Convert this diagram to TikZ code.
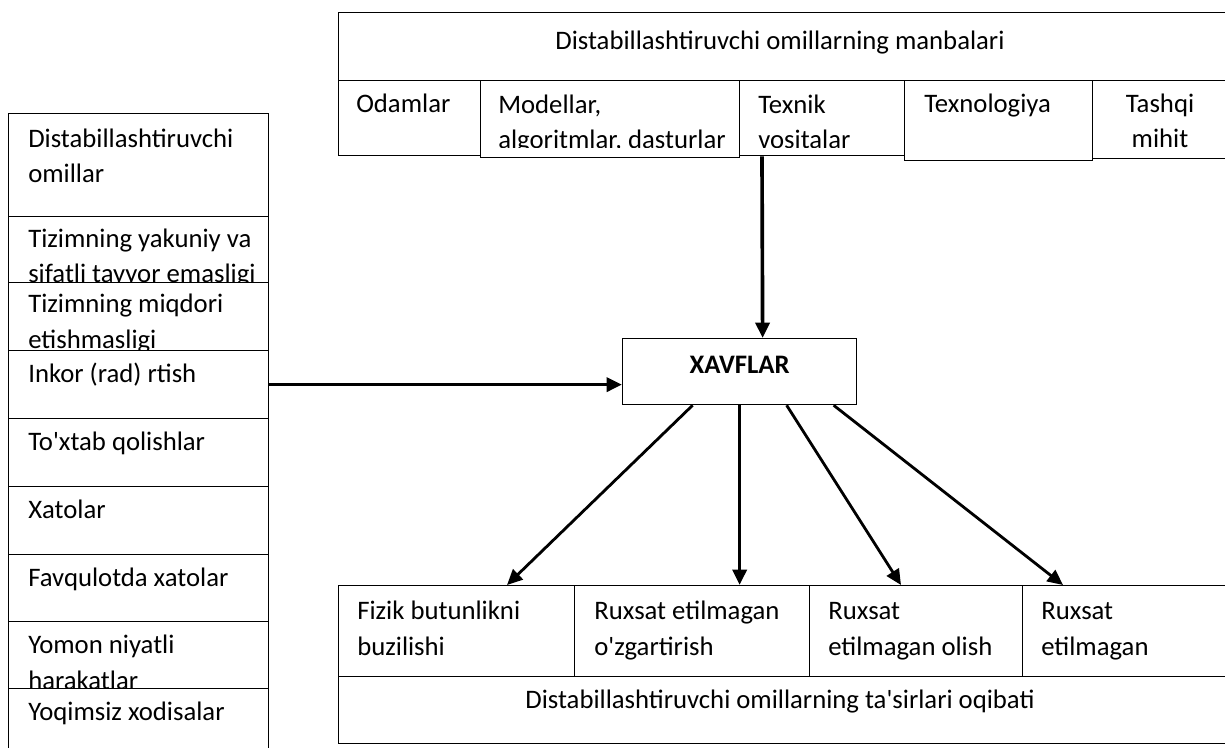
\documentclass[tikz,border=0pt]{standalone}
\usepackage{fontspec}
\setmainfont{Carlito}
\usepackage{tikz}
\usetikzlibrary{arrows.meta,calc}
\newcommand{\pu}{0.025cm}

\begin{document}
\begin{tikzpicture}[x=0.025cm, y=-0.025cm,
  every node/.style={font=\fontsize{19}{25.6}\selectfont},
  box/.style={draw=black, line width=0.9pt, fill=white, inner sep=0pt, anchor=north west},
  txt/.style={anchor=base west, align=left, inner sep=0pt},
  link/.style={-{Triangle[length=11pt,width=10pt]}, line width=2.6pt},
  slant/.style={-{Triangle[length=11pt,width=10pt]}, line width=2pt}]
  \useasboundingbox (0,0) rectangle (1225,748);
  \clip (0,0) rectangle (1225,748);

  % Sources (two-line texts sit on the baseline of their last line)
  \node[box, minimum width=900*\pu, minimum height=68*\pu] (manba) at (338,12) {};
  \node[anchor=base, inner sep=0pt] (manba-t) at ($(manba.north west)+(442,38)$) {Distabillashtiruvchi omillarning manbalari};

  \node[box, minimum width=142*\pu, minimum height=75*\pu] (odam) at (338,80) {};
  \node[txt] (odam-t) at ($(odam.north west)+(18,33)$) {Odamlar};
  \node[box, minimum width=259*\pu, minimum height=77*\pu] (model) at (480,80) {};
  \begin{scope}
    \clip (model.north west) rectangle ($(model.south east)+(0,-11)$);
    \node[txt] (model-t) at ($(model.north west)+(18,69)$) {Modellar,\\algoritmlar, dasturlar};
  \end{scope}
  \node[box, minimum width=165*\pu, minimum height=75*\pu] (texnik) at (739,80) {};
  \begin{scope}
    \clip (texnik.north west) rectangle ($(texnik.south east)+(0,-9)$);
    \node[txt] (texnik-t) at ($(texnik.north west)+(19,69)$) {Texnik\\vositalar};
  \end{scope}
  \node[box, minimum width=188*\pu, minimum height=80*\pu] (texnol) at (904,80) {};
  \node[txt] (texnol-t) at ($(texnol.north west)+(20,33)$) {Texnologiya};
  \node[box, minimum width=150*\pu, minimum height=78*\pu] (tashqi) at (1092,80) {};
  \node[txt, anchor=base, align=center] (tashqi-t) at ($(tashqi.north west)+(68,68)$) {Tashqi\\mihit};

  % Factors
  \node[box, minimum width=260*\pu, minimum height=103*\pu] (b1) at (8,113) {};
  \node[txt] (b1-t) at ($(b1.north west)+(20,70)$) {Distabillashtiruvchi\\omillar};
  \node[box, minimum width=260*\pu, minimum height=66*\pu] (b2) at (8,216) {};
  \node[txt] (b2-t) at ($(b2.north west)+(20,67)$) {Tizimning yakuniy va\\sifatli tayyor emasligi};
  \node[box, minimum width=260*\pu, minimum height=68*\pu] (b3) at (8,282) {};
  \node[txt] (b3-t) at ($(b3.north west)+(20,66)$) {Tizimning miqdori\\etishmasligi};
  \node[box, minimum width=260*\pu, minimum height=68*\pu] (b4) at (8,350) {};
  \node[txt] (b4-t) at ($(b4.north west)+(20,32)$) {Inkor (rad) rtish};
  \node[box, minimum width=260*\pu, minimum height=68*\pu] (b5) at (8,418) {};
  \node[txt] (b5-t) at ($(b5.north west)+(20,32)$) {To\textquotesingle xtab qolishlar};
  \node[box, minimum width=260*\pu, minimum height=68*\pu] (b6) at (8,486) {};
  \node[txt] (b6-t) at ($(b6.north west)+(20,32)$) {Xatolar};
  \node[box, minimum width=260*\pu, minimum height=67*\pu] (b7) at (8,554) {};
  \node[txt] (b7-t) at ($(b7.north west)+(20,32)$) {Favqulotda xatolar};
  \node[box, minimum width=260*\pu, minimum height=67*\pu] (b8) at (8,621) {};
  \node[txt] (b8-t) at ($(b8.north west)+(20,68)$) {Yomon niyatli\\harakatlar};
  \node[box, minimum width=260*\pu, minimum height=80*\pu] (b9) at (8,688) {};
  \node[txt] (b9-t) at ($(b9.north west)+(20,32)$) {Yoqimsiz xodisalar};

  % Threats
  \node[box, minimum width=234*\pu, minimum height=66*\pu] (xavf) at (622,338) {};
  \node[anchor=base, inner sep=0pt, font=\fontsize{19}{25.6}\selectfont\bfseries] (xavf-t) at ($(xavf.north)+(0,35)$) {XAVFLAR};

  % Consequences
  \node[box, minimum width=236*\pu, minimum height=91*\pu] (c1) at (338,585) {};
  \node[txt] (c1-t) at ($(c1.north west)+(19,70)$) {Fizik butunlikni\\buzilishi};
  \node[box, minimum width=235*\pu, minimum height=91*\pu] (c2) at (574,585) {};
  \node[txt] (c2-t) at ($(c2.north west)+(20,70)$) {Ruxsat etilmagan\\o\textquotesingle zgartirish};
  \node[box, minimum width=213*\pu, minimum height=91*\pu] (c3) at (809,585) {};
  \node[txt] (c3-t) at ($(c3.north west)+(19,70)$) {Ruxsat\\etilmagan olish};
  \node[box, minimum width=220*\pu, minimum height=91*\pu] (c4) at (1022,585) {};
  \node[txt] (c4-t) at ($(c4.north west)+(19,70)$) {Ruxsat\\etilmagan};
  \node[box, minimum width=900*\pu, minimum height=67*\pu] (oqibat) at (338,676) {};
  \node[anchor=base, inner sep=0pt] (oqibat-t) at ($(oqibat.north west)+(442,32)$) {Distabillashtiruvchi omillarning ta\textquotesingle sirlari oqibati};

  \draw[link] ($(texnik.south west)+(23,0)$) -- ($(xavf.north)+(23,0)$);
  \draw[link] (b4.east) -- (b4.east -| xavf.west);
  \draw[slant] ($(xavf.south)+(-47,0)$) -- ($(c1.north west)+(169,0)$);
  \draw[link] (xavf.south) -- (xavf.south |- c2.north);
  \draw[slant] ($(xavf.south)+(47,0)$) -- ($(c3.north west)+(92,0)$);
  \draw[slant] ($(xavf.south)+(94,0)$) -- ($(c4.north west)+(41,0)$);
\end{tikzpicture}
\end{document}
